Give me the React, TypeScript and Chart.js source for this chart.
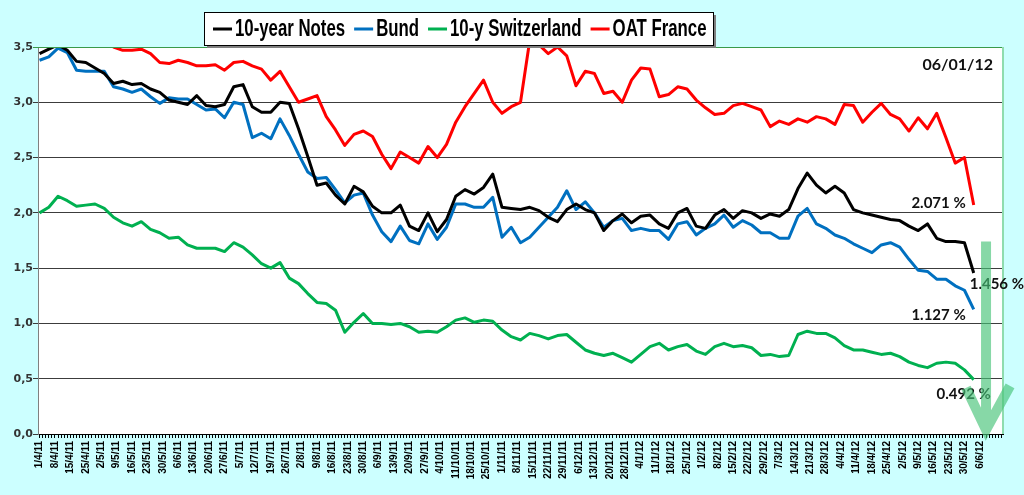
import React, { useEffect, useRef } from 'react';
import { Chart, registerables } from 'chart.js';

Chart.register(...registerables);

// weekly tick labels (every 5th trading day)
const DATES = [
  '1/4/11', '8/4/11', '15/4/11', '25/4/11', '2/5/11', '9/5/11', '16/5/11', '23/5/11', '30/5/11', '6/6/11',
  '13/6/11', '20/6/11', '27/6/11', '5/7/11', '12/7/11', '19/7/11', '26/7/11', '2/8/11', '9/8/11', '16/8/11',
  '23/8/11', '30/8/11', '6/9/11', '13/9/11', '20/9/11', '27/9/11', '4/10/11', '11/10/11', '18/10/11', '25/10/11',
  '1/11/11', '8/11/11', '15/11/11', '22/11/11', '29/11/11', '6/12/11', '13/12/11', '20/12/11', '28/12/11', '4/1/12',
  '11/1/12', '18/1/12', '25/1/12', '1/2/12', '8/2/12', '15/2/12', '22/2/12', '29/2/12', '7/3/12', '14/3/12',
  '21/3/12', '28/3/12', '4/4/12', '11/4/12', '18/4/12', '25/4/12', '2/5/12', '9/5/12', '16/5/12', '23/5/12',
  '30/5/12', '6/6/12',
];
const DAYS_ON_AXIS = 313;
const SAMPLE_STEP = 3; // trading days between stored values

const NOTES_10Y = [
  3.44, 3.48, 3.52, 3.47, 3.37, 3.36, 3.31, 3.26, 3.17, 3.19,
  3.16, 3.17, 3.12, 3.09, 3.02, 3.0, 2.98, 3.06, 2.97, 2.96,
  2.98, 3.14, 3.16, 2.96, 2.91, 2.91, 3.0, 2.99, 2.76, 2.51,
  2.25, 2.27, 2.16, 2.08, 2.24, 2.19, 2.06, 2.0, 2.0, 2.07,
  1.88, 1.84, 2.0, 1.83, 1.94, 2.15, 2.21, 2.17, 2.23, 2.35,
  2.05, 2.04, 2.03, 2.05, 2.02, 1.96, 1.92, 2.03, 2.08, 2.03,
  2.0, 1.84, 1.93, 1.99, 1.91, 1.97, 1.98, 1.9, 1.86, 2.0,
  2.04, 1.88, 1.86, 1.98, 2.03, 1.95, 2.02, 2.0, 1.95, 1.99,
  1.97, 2.03, 2.22, 2.36, 2.25, 2.18, 2.24, 2.18, 2.03, 2.0,
  1.98, 1.96, 1.94, 1.93, 1.88, 1.84, 1.9, 1.77, 1.74, 1.74,
  1.73, 1.456,
];
const BUND = [
  3.38, 3.41, 3.49, 3.45, 3.29, 3.28, 3.28, 3.28, 3.14, 3.12,
  3.09, 3.12, 3.05, 2.99, 3.04, 3.03, 3.03, 2.98, 2.93, 2.94,
  2.86, 3.0, 2.98, 2.68, 2.72, 2.67, 2.85, 2.7, 2.53, 2.37,
  2.31, 2.32, 2.21, 2.09, 2.16, 2.18, 1.98, 1.83, 1.74, 1.88,
  1.75, 1.72, 1.9, 1.76, 1.87, 2.08, 2.08, 2.05, 2.05, 2.14,
  1.78, 1.87, 1.73, 1.78, 1.87, 1.96, 2.05, 2.2, 2.03, 2.1,
  2.0, 1.87, 1.93, 1.95, 1.84, 1.86, 1.84, 1.84, 1.76, 1.9,
  1.92, 1.8, 1.86, 1.9, 1.98, 1.87, 1.93, 1.89, 1.82, 1.82,
  1.77, 1.77, 1.97, 2.04, 1.9, 1.86, 1.8, 1.77, 1.72, 1.68,
  1.64, 1.71, 1.73, 1.69, 1.58, 1.48, 1.47, 1.4, 1.4, 1.34,
  1.3, 1.127,
];
const SWISS_10Y = [
  2.0, 2.05, 2.15, 2.11, 2.06, 2.07, 2.08, 2.04, 1.96, 1.91,
  1.88, 1.92, 1.85, 1.82, 1.77, 1.78, 1.71, 1.68, 1.68, 1.68,
  1.65, 1.73, 1.69, 1.62, 1.54, 1.5, 1.55, 1.41, 1.36, 1.27,
  1.19, 1.18, 1.12, 0.92, 1.01, 1.09, 1.0, 1.0, 0.99, 1.0,
  0.97, 0.92, 0.93, 0.92, 0.97, 1.03, 1.05, 1.01, 1.03, 1.02,
  0.94, 0.88, 0.85, 0.91, 0.89, 0.86, 0.89, 0.9, 0.83, 0.76,
  0.73, 0.71, 0.73, 0.69, 0.65, 0.72, 0.79, 0.82, 0.76, 0.79,
  0.81, 0.75, 0.72, 0.79, 0.82, 0.79, 0.8, 0.78, 0.71, 0.72,
  0.7, 0.71, 0.9, 0.93, 0.91, 0.91, 0.87, 0.8, 0.76, 0.76,
  0.74, 0.72, 0.73, 0.7, 0.65, 0.62, 0.6, 0.64, 0.65, 0.64,
  0.58, 0.492,
];
const OAT_FRANCE = [
  3.7, 3.68, 3.66, 3.65, 3.62, 3.6, 3.58, 3.55, 3.5, 3.47,
  3.47, 3.48, 3.44, 3.36, 3.35, 3.38, 3.36, 3.33, 3.33, 3.34,
  3.29, 3.36, 3.37, 3.33, 3.3, 3.2, 3.28, 3.14, 3.0, 3.03,
  3.06, 2.87, 2.75, 2.61, 2.71, 2.74, 2.69, 2.53, 2.4, 2.55,
  2.5, 2.45, 2.6, 2.5, 2.62, 2.82, 2.96, 3.08, 3.2, 3.0,
  2.9, 2.96, 3.0, 3.56, 3.52, 3.44, 3.5, 3.42, 3.15, 3.28,
  3.26, 3.08, 3.1, 3.0, 3.2, 3.31, 3.3, 3.05, 3.07, 3.14,
  3.12, 3.02, 2.95, 2.89, 2.9, 2.97, 2.99, 2.96, 2.93, 2.78,
  2.83, 2.8, 2.85, 2.82, 2.87, 2.85, 2.8, 2.98, 2.97, 2.82,
  2.91, 2.99, 2.89, 2.85, 2.74, 2.86, 2.76, 2.9, 2.68, 2.45,
  2.5, 2.071,
];

const SERIES_NAMES = ['10-year Notes', 'Bund', '10-y Switzerland', 'OAT France'];
const SERIES_COLORS = ['#000000', '#0070c0', '#00b050', '#ff0000'];
const END_LABELS = ['1.456 %', '1.127 %', '0.492 %', '2.071 %'];
const DATE_STAMP = '06/01/12';

const toPoints = (vals: number[]) => vals.map((y, i) => ({ x: i * SAMPLE_STEP, y }));

const overlay = {
  id: 'overlay',
  beforeDraw(chart: any) {
    const { ctx, chartArea: a } = chart;
    ctx.save();
    ctx.fillStyle = '#ffffff';
    ctx.fillRect(a.left, a.top, a.right - a.left, a.bottom - a.top);
    ctx.restore();
  },
  afterDraw(chart: any) {
    const { ctx, chartArea: a, scales } = chart;
    ctx.save();

    // plot border, top and right
    ctx.strokeStyle = '#3a9a4a';
    ctx.lineWidth = 1;
    ctx.beginPath();
    ctx.moveTo(a.left, a.top + 0.5);
    ctx.lineTo(a.right, a.top + 0.5);
    ctx.stroke();
    ctx.strokeStyle = '#8fdcae';
    ctx.lineWidth = 2;
    ctx.beginPath();
    ctx.moveTo(a.right, a.top);
    ctx.lineTo(a.right, a.bottom);
    ctx.stroke();

    // end value labels
    ctx.fillStyle = '#111';
    ctx.font = 'bold 15px Lato, "Open Sans", sans-serif';
    ctx.textBaseline = 'middle';
    const offs = [
      { dx: -4, dy: 11, align: 'left' },
      { dx: -8, dy: 6, align: 'right' },
      { dx: -10, dy: 15, align: 'center' },
      { dx: -8, dy: -2, align: 'right' },
    ];
    chart.data.datasets.forEach((_: any, i: number) => {
      const pts = chart.getDatasetMeta(i).data;
      const p = pts[pts.length - 1];
      ctx.textAlign = offs[i].align;
      ctx.fillText(END_LABELS[i], p.x + offs[i].dx, p.y + offs[i].dy);
    });
    ctx.font = 'bold 16px Lato, "Open Sans", sans-serif';
    ctx.textAlign = 'right';
    ctx.fillText(DATE_STAMP, a.right - 10, a.top + 18);

    // legend
    const bx = 204, by = 12, bw = 509, bh = 33;
    ctx.fillStyle = '#808080';
    ctx.fillRect(bx + 3, by + 3, bw, bh);
    ctx.fillStyle = '#ffffff';
    ctx.fillRect(bx, by, bw, bh);
    ctx.strokeStyle = '#000';
    ctx.lineWidth = 1;
    ctx.strokeRect(bx + 0.5, by + 0.5, bw, bh);
    ctx.font = 'bold 23px "Liberation Sans", Arial, sans-serif';
    ctx.textAlign = 'left';
    const sx = 0.73;
    let x = bx + 9;
    const cy = by + 17;
    SERIES_NAMES.forEach((name, i) => {
      ctx.fillStyle = SERIES_COLORS[i];
      ctx.fillRect(x, cy - 1.5, 19, 3);
      x += 22;
      ctx.save();
      ctx.translate(x, cy);
      ctx.scale(sx, 1);
      ctx.fillStyle = '#000';
      ctx.fillText(name, 0, 1);
      ctx.restore();
      x += ctx.measureText(name).width * sx + 9;
    });

    // green down arrow
    const xs = scales.x, ys = scales.y;
    const ax = xs.getPixelForValue(307);
    const top = ys.getPixelForValue(1.74);
    const tip = ys.getPixelForValue(0.02);
    ctx.strokeStyle = 'rgba(70, 195, 120, 0.65)';
    ctx.lineWidth = 10;
    ctx.lineJoin = 'miter';
    ctx.beginPath();
    ctx.moveTo(ax, top);
    ctx.lineTo(ax, tip - 6);
    ctx.moveTo(ax - 20, tip - 44);
    ctx.lineTo(ax, tip - 2);
    ctx.lineTo(ax + 24, tip - 46);
    ctx.stroke();

    ctx.restore();
  },
};

export default function App() {
  const canvasRef = useRef<HTMLCanvasElement>(null);
  const chartRef = useRef<Chart | null>(null);

  useEffect(() => {
    if (!canvasRef.current) return;
    const ctx = canvasRef.current.getContext('2d');
    if (!ctx) return;
    if (chartRef.current) chartRef.current.destroy();

    const seriesValues = [NOTES_10Y, BUND, SWISS_10Y, OAT_FRANCE];

    chartRef.current = new Chart(ctx, {
      type: 'line',
      data: {
        datasets: seriesValues.map((vals, i) => ({
          label: SERIES_NAMES[i],
          data: toPoints(vals),
          borderColor: SERIES_COLORS[i],
          borderWidth: 3,
          pointRadius: 0,
          tension: 0,
          borderJoinStyle: 'round',
          fill: false,
        })),
      },
      options: {
        responsive: false,
        animation: false,
        events: [],
        layout: { padding: { top: 47, right: 21, left: 0, bottom: 0 } },
        plugins: { legend: { display: false }, tooltip: { enabled: false } },
        scales: {
          x: {
            type: 'linear',
            min: -0.5,
            max: DAYS_ON_AXIS - 0.5,
            afterBuildTicks: (scale: any) => {
              scale.ticks = Array.from({ length: DAYS_ON_AXIS }, (_, d) => ({ value: d }));
            },
            afterFit: (scale: any) => {
              scale.height = 61;
            },
            grid: { drawOnChartArea: false, drawTicks: true, tickLength: 4, color: '#000' },
            border: { color: '#000', width: 1 },
            ticks: {
              autoSkip: false,
              maxRotation: 90,
              minRotation: 90,
              padding: 3,
              color: '#000',
              font: { family: '"Liberation Sans", Arial, sans-serif', size: 10, weight: 'bold' },
              callback: (v: any) => {
                const d = Number(v);
                return d % 5 === 0 && d / 5 < DATES.length ? DATES[d / 5] : '';
              },
            },
          },
          y: {
            min: 0,
            max: 3.5,
            afterFit: (scale: any) => {
              scale.width = 38;
            },
            grid: {
              color: (c: any) => (c.tick && c.tick.value === 3.5 ? '#3a9a4a' : '#3c3c3c'),
              lineWidth: 1,
              tickLength: 5,
            },
            border: { color: '#808080', width: 1 },
            ticks: {
              stepSize: 0.5,
              padding: 0,
              color: '#333',
              font: { family: '"DejaVu Sans", Verdana, sans-serif', size: 11, weight: 'bold' },
              callback: (v: any) => Number(v).toFixed(1).replace('.', ','),
            },
          },
        },
      },
      plugins: [overlay],
    } as any);

    return () => chartRef.current?.destroy();
  }, []);

  return (
    <div style={{ position: 'fixed', left: 0, top: 0, width: 1024, height: 495, background: '#ccffff' }}>
      <canvas ref={canvasRef} width={1024} height={495}></canvas>
    </div>
  );
}
